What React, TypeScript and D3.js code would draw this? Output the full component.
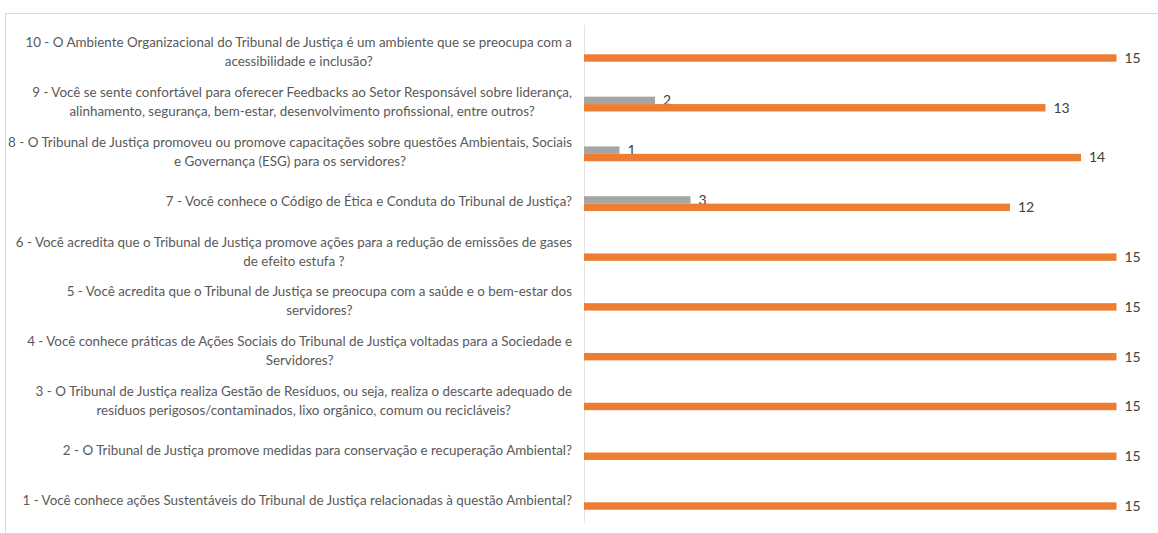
import React, { useEffect, useRef } from "react";
import * as d3 from "d3";

const categories: string[] = [
  "10 - O Ambiente Organizacional do Tribunal de Justiça é um ambiente que se preocupa com a\nacessibilidade e inclusão?",
  "9 - Você se sente confortável para oferecer Feedbacks ao Setor Responsável sobre liderança,\nalinhamento, segurança, bem-estar, desenvolvimento profissional, entre outros?",
  "8 - O Tribunal de Justiça promoveu ou promove capacitações sobre questões Ambientais, Sociais\ne Governança (ESG) para os servidores?",
  "7 - Você conhece o Código de Ética e Conduta do Tribunal de Justiça?",
  "6 - Você acredita que o Tribunal de Justiça promove ações para a redução de emissões de gases\nde efeito estufa ?",
  "5 - Você acredita que o Tribunal de Justiça se preocupa com a saúde e o bem-estar dos\nservidores?",
  "4 - Você conhece práticas de Ações Sociais do Tribunal de Justiça voltadas para a Sociedade e\nServidores?",
  "3 - O Tribunal de Justiça realiza Gestão de Resíduos, ou seja, realiza o descarte adequado de\nresíduos perigosos/contaminados, lixo orgânico, comum ou recicláveis?",
  "2 - O Tribunal de Justiça promove medidas para conservação e recuperação Ambiental?",
  "1 - Você conhece ações Sustentáveis do Tribunal de Justiça relacionadas à questão Ambiental?",
];

const seriesNames: string[] = ["Não", "Sim"];
const naoValues: number[] = [0, 2, 1, 3, 0, 0, 0, 0, 0, 0];
const simValues: number[] = [15, 13, 14, 12, 15, 15, 15, 15, 15, 15];
const seriesColors: string[] = ["#A5A5A5", "#ED7D31"];

const W = 1158;
const H = 533;
const FONT = "Lato, 'Open Sans', sans-serif";

export default function App() {
  const ref = useRef<SVGSVGElement | null>(null);

  useEffect(() => {
    const svg = d3.select(ref.current);
    svg.selectAll("*").remove();

    const plotLeft = 584;
    const plotTop = 29.4;
    const plotBottom = 527.2;

    const x = d3.scaleLinear().domain([0, 15]).range([plotLeft, plotLeft + 15 * 35.5]);
    const y = d3
      .scaleBand<string>()
      .domain(categories)
      .range([plotTop, plotBottom])
      .paddingInner(0.702)
      .paddingOuter(0.351);
    const sub = d3.scaleBand<string>().domain(seriesNames).range([0, y.bandwidth()]);

    // chart border
    svg
      .append("rect")
      .attr("x", 5.5)
      .attr("y", 13.5)
      .attr("width", W)
      .attr("height", H)
      .attr("fill", "none")
      .attr("stroke", "#d9d9d9")
      .attr("stroke-width", 1);

    // axis line
    svg
      .append("line")
      .attr("x1", plotLeft + 0.5)
      .attr("x2", plotLeft + 0.5)
      .attr("y1", 25)
      .attr("y2", 523)
      .attr("stroke", "#e3e3e3")
      .attr("stroke-width", 1);

    const data = categories.map((c, i) => ({ c, vals: [naoValues[i], simValues[i]] }));

    const g = svg.append("g");
    data.forEach((d) => {
      const y0 = y(d.c)!;
      d.vals.forEach((v, j) => {
        const s = seriesNames[j];
        const by = y0 + sub(s)!;
        if (v > 0) {
          g.append("rect")
            .attr("x", x(0))
            .attr("y", by)
            .attr("width", x(v) - x(0))
            .attr("height", sub.bandwidth())
            .attr("fill", seriesColors[j]);
          g.append("text")
            .attr("x", x(v) + 8)
            .attr("y", by + sub.bandwidth() / 2)
            .attr("dy", "0.35em")
            .attr("font-family", FONT)
            .attr("font-size", 14)
            .attr("fill", "#404040")
            .text(String(v));
        }
      });
    });

    // category labels
    const labelRight = 572;
    const lineH = 19;
    data.forEach((d) => {
      const lines = d.c.split("\n");
      const center = y(d.c)! + y.bandwidth() / 2 - 2;
      const grp = svg.append("g");
      const texts = lines.map((ln, k) =>
        grp
          .append("text")
          .attr("y", center + (k - (lines.length - 1) / 2) * lineH)
          .attr("dy", "0.35em")
          .attr("font-family", FONT)
          .attr("font-size", 13.4)
          .attr("fill", "#595959")
          .attr("text-anchor", "middle")
          .text(ln)
      );
      const widths = texts.map((t) => (t.node() as SVGTextElement).getComputedTextLength());
      const maxW = Math.max(...widths);
      texts.forEach((t) => t.attr("x", labelRight - maxW / 2));
    });
  }, []);

  return (
    <svg
      ref={ref}
      width={W}
      height={H}
      style={{ position: "absolute", left: 0, top: 0, background: "#fff" }}
    />
  );
}
